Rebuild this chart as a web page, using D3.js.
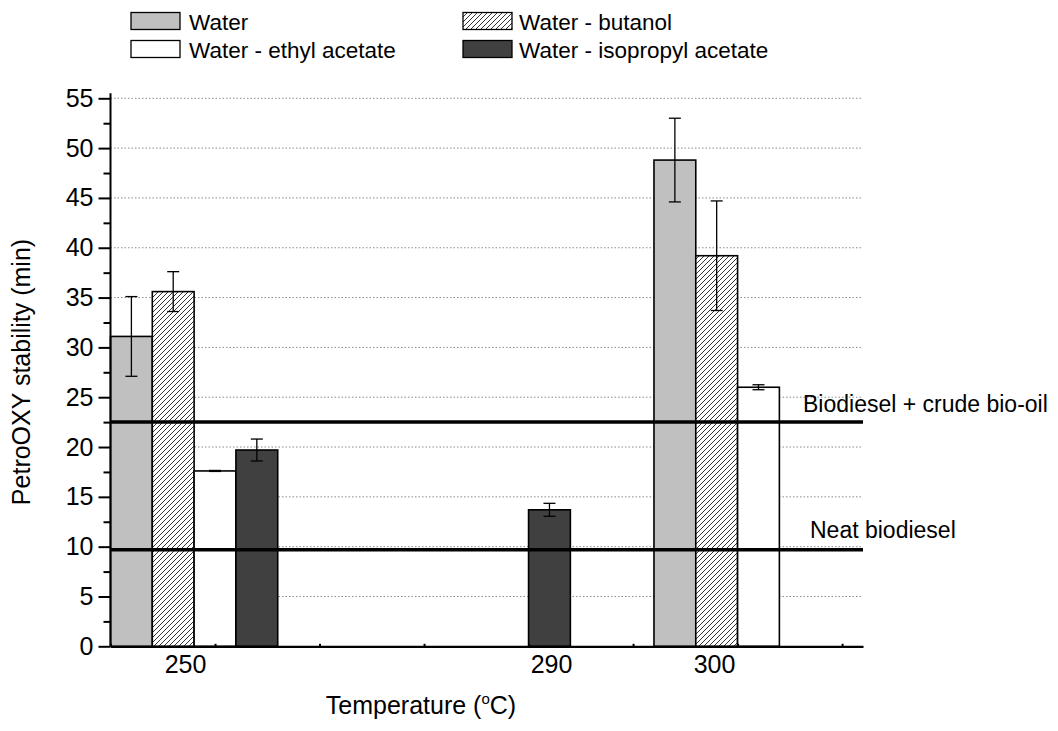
<!DOCTYPE html>
<html><head><meta charset="utf-8">
<script src="https://cdn.jsdelivr.net/npm/d3@7"></script>
<style>
html,body{margin:0;padding:0;background:#fff;}
svg{display:block;}
svg text{font-family:"Liberation Sans",Arial,Helvetica,sans-serif !important;fill:#000;}
</style></head>
<body>
<svg id="chart" width="1058" height="731"></svg>
<script>
// ---- data ----
const categories = ["250", "290", "300"];
const seriesNames = ["Water", "Water - butanol", "Water - ethyl acetate", "Water - isopropyl acetate"];
const waterVals = [31.1, null, 48.8];
const waterErr = [4.0, null, 4.2];
const butanolVals = [35.6, null, 39.2];
const butanolErr = [2.0, null, 5.5];
const ethylVals = [17.6, null, 26.0];
const ethylErr = [0.05, null, 0.25];
const isopropylVals = [19.7, 13.7, null];
const isopropylErr = [1.1, 0.65, null];
const yTicks = [0, 5, 10, 15, 20, 25, 30, 35, 40, 45, 50, 55];
const refValues = [22.5, 9.7];
const refLabels = ["Biodiesel + crude bio-oil", "Neat biodiesel"];
const xTitle = "Temperature (";
const yTitle = "PetroOXY stability (min)";

(function () {
// ---- layout ----
const svg = d3.select("#chart");
const pL = 110.5, pR = 863, pB = 646.3, pT = 98.3;
const x = d3.scaleLinear().domain([0, 7.2]).range([pL, pR]);
const slot = d3.scaleBand().domain(d3.range(18)).range([pL, pR]).paddingInner(0);
const groupSlot = [0, 7, 13];           // first slot of each category group
const labelPos = [0.713, 4.215, 5.775]; // category label position (axis units)
const y = d3.scaleLinear().domain([0, 55]).range([pB, pT]);

const seriesVals = [waterVals, butanolVals, ethylVals, isopropylVals];
const seriesErr = [waterErr, butanolErr, ethylErr, isopropylErr];
const fills = ["#c0c0c0", "url(#hatch)", "#ffffff", "#404040"];

const defs = svg.append("defs");
const pat = defs.append("pattern").attr("id", "hatch").attr("patternUnits", "userSpaceOnUse")
  .attr("width", 5).attr("height", 5);
pat.append("rect").attr("width", 5).attr("height", 5).attr("fill", "#fff");
pat.append("path").attr("d", "M-1,1 L1,-1 M0,5 L5,0 M4,6 L6,4")
  .attr("stroke", "#000").attr("stroke-width", 0.8);

// gridlines
svg.append("g").selectAll("line").data(yTicks.filter(d => d > 0)).join("line")
  .attr("x1", pL).attr("x2", pR).attr("y1", d => y(d)).attr("y2", d => y(d))
  .attr("stroke", "#8a8a8a").attr("stroke-width", 1).attr("stroke-dasharray", "1.5,2");

// bars
const bars = [];
seriesVals.forEach((vals, s) => vals.forEach((v, c) => {
  if (v != null) bars.push({s, c, v, e: seriesErr[s][c]});
}));
svg.append("g").selectAll("rect").data(bars).join("rect")
  .attr("x", d => slot(groupSlot[d.c] + d.s))
  .attr("width", slot.bandwidth())
  .attr("y", d => y(d.v))
  .attr("height", d => y(0) - y(d.v))
  .attr("fill", d => fills[d.s])
  .attr("stroke", "#000").attr("stroke-width", 1.6);

// error bars
const gErr = svg.append("g").attr("stroke", "#000").attr("stroke-width", 1.3);
bars.forEach(d => {
  const cx = slot(groupSlot[d.c] + d.s) + slot.bandwidth() / 2;
  gErr.append("line").attr("x1", cx).attr("x2", cx).attr("y1", y(d.v + d.e)).attr("y2", y(d.v - d.e));
  [d.v + d.e, d.v - d.e].forEach(t => gErr.append("line")
    .attr("x1", cx - 6).attr("x2", cx + 6).attr("y1", y(t)).attr("y2", y(t)));
});

// reference lines
svg.append("g").selectAll("line").data(refValues).join("line")
  .attr("x1", pL).attr("x2", pR).attr("y1", d => y(d)).attr("y2", d => y(d))
  .attr("stroke", "#000").attr("stroke-width", 3.5);
const refLabelX = [803, 810];
const refLabelDy = [-10, -12];
svg.append("g").selectAll("text").data(refValues).join("text")
  .attr("x", (d, i) => refLabelX[i])
  .attr("y", (d, i) => y(d) + refLabelDy[i])
  .attr("font-size", 23)
  .text((d, i) => refLabels[i]);

// y axis
const yAxis = svg.append("g").attr("transform", `translate(${pL},0)`)
  .call(d3.axisLeft(y).tickValues(yTicks).tickSize(12).tickPadding(5).tickFormat(d3.format("d")));
yAxis.select(".domain").attr("stroke-width", 2).attr("d", `M0,${pB}V${pT - 5}`);
yAxis.selectAll(".tick line").attr("stroke-width", 2);
yAxis.selectAll(".tick text").attr("font-size", 25);
const minor = svg.append("g").attr("transform", `translate(${pL},0)`)
  .call(d3.axisLeft(y).tickValues(d3.range(2.5, 55, 5)).tickSize(7).tickFormat(""));
minor.select(".domain").remove();
minor.selectAll(".tick line").attr("stroke-width", 2);

// x axis (baseline with small inner ticks)
const xAxis = svg.append("g").attr("transform", `translate(0,${pB})`)
  .call(d3.axisBottom(x).tickValues(d3.range(0, 8)).tickSizeInner(-2.5).tickSizeOuter(0).tickFormat(""));
xAxis.select(".domain").attr("stroke-width", 2.2);
xAxis.selectAll(".tick line").attr("stroke-width", 2);
const xLab = svg.append("g").attr("transform", `translate(0,${pB})`)
  .call(d3.axisBottom(x).tickValues(labelPos).tickSize(0).tickPadding(9).tickFormat((d, i) => categories[i]));
xLab.select(".domain").remove();
xLab.selectAll(".tick text").attr("font-size", 25);

// axis titles
const xt = svg.append("text").attr("x", 421).attr("y", 714).attr("text-anchor", "middle")
  .attr("font-size", 25);
xt.append("tspan").text(xTitle);
xt.append("tspan").attr("font-size", 15).attr("dy", -10).text("o");
xt.append("tspan").attr("dy", 10).text("C)");
svg.append("text").attr("transform", "translate(30,372) rotate(-90)").attr("text-anchor", "middle")
  .attr("font-size", 25).text(yTitle);

// legend
const legBoxX = [131, 463], legTextX = [189, 519];
const legBoxY = [12.5, 40.5], legTextY = [29.5, 57.5];
const leg = svg.append("g");
[0, 1, 2, 3].forEach(i => {
  const col = i % 2, row = Math.floor(i / 2);
  leg.append("rect").attr("x", legBoxX[col]).attr("y", legBoxY[row]).attr("width", 49).attr("height", 17)
    .attr("fill", fills[i]).attr("stroke", "#000").attr("stroke-width", 1.3);
  leg.append("text").attr("x", legTextX[col]).attr("y", legTextY[row])
    .attr("font-size", 22.5).text(seriesNames[i]);
});
})();
</script>
</body></html>
